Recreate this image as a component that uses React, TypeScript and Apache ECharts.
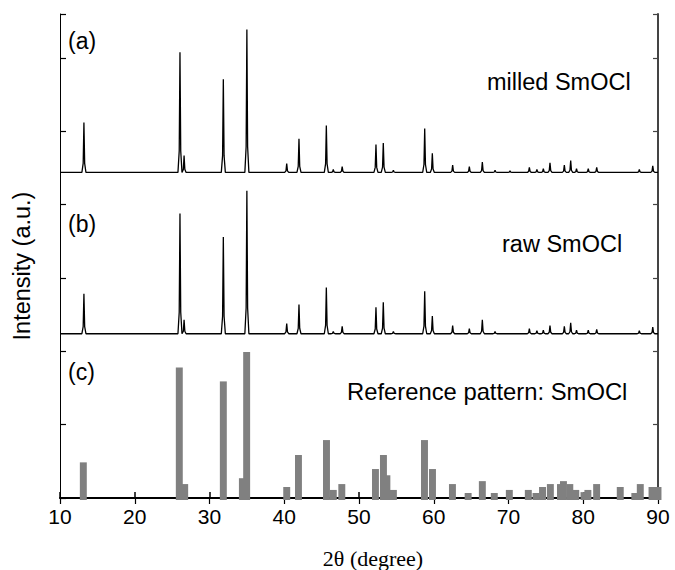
import React, { useEffect, useRef } from "react";
import * as echarts from "echarts";

// x-axis ticks
const xTicks = [10, 20, 30, 40, 50, 60, 70, 80, 90];

// (a) milled SmOCl : peak positions (2θ) and heights above its baseline
const milledBase = 4.44;
const milledPos = [13.2, 26.05, 26.6, 31.85, 35.0, 40.33, 41.97, 45.63, 46.56, 47.75, 52.27, 53.25, 54.6, 58.79, 59.81, 62.53, 64.76, 66.5, 68.2, 70.2, 72.79, 73.8, 74.66, 75.55, 77.47, 78.32, 79.1, 80.67, 81.8, 87.5, 89.3];
const milledHeight = [0.68, 1.64, 0.23, 1.27, 1.95, 0.12, 0.46, 0.64, 0.04, 0.08, 0.38, 0.4, 0.03, 0.6, 0.26, 0.1, 0.08, 0.14, 0.03, 0.02, 0.07, 0.04, 0.05, 0.13, 0.1, 0.16, 0.05, 0.05, 0.07, 0.04, 0.09];

// (b) raw SmOCl
const rawBase = 2.24;
const rawPos = [13.2, 26.05, 26.6, 31.85, 35.0, 40.33, 41.97, 45.63, 46.56, 47.75, 52.27, 53.25, 54.6, 58.79, 59.81, 62.53, 64.76, 66.5, 68.2, 72.79, 73.8, 74.66, 75.55, 77.47, 78.32, 79.1, 80.67, 81.8, 87.5, 89.3];
const rawHeight = [0.545, 1.64, 0.19, 1.32, 1.95, 0.14, 0.4, 0.63, 0.03, 0.1, 0.36, 0.43, 0.03, 0.58, 0.24, 0.11, 0.07, 0.19, 0.03, 0.07, 0.04, 0.05, 0.11, 0.1, 0.15, 0.05, 0.05, 0.06, 0.04, 0.09];

// (c) reference pattern bars
const refPos = [13.12, 25.96, 26.68, 31.85, 34.4, 34.97, 40.33, 41.9, 45.65, 46.56, 47.7, 52.2, 53.27, 53.73, 54.6, 58.76, 59.83, 62.5, 64.6, 66.5, 68.1, 70.11, 72.65, 73.68, 74.55, 75.6, 76.95, 77.35, 78.2, 79.0, 80.1, 80.62, 81.79, 84.95, 86.9, 87.63, 89.2, 90.0];
const refHeight = [0.486, 1.78, 0.19, 1.59, 0.27, 1.99, 0.15, 0.586, 0.79, 0.11, 0.19, 0.395, 0.586, 0.31, 0.11, 0.79, 0.395, 0.19, 0.068, 0.23, 0.068, 0.11, 0.11, 0.068, 0.15, 0.19, 0.19, 0.23, 0.19, 0.11, 0.08, 0.11, 0.19, 0.15, 0.068, 0.19, 0.15, 0.15];

const HALF = 0.27;
const SH = 0.1;

function buildTrace(pos: number[], h: number[], base: number): number[][] {
  const pts: number[][] = [[10, base]];
  pos.forEach((p, i) => {
    pts.push([p - HALF, base]);
    pts.push([p - SH, base + 0.18 * h[i]]);
    pts.push([p, base + h[i]]);
    pts.push([p + SH, base + 0.18 * h[i]]);
    pts.push([p + HALF, base]);
  });
  pts.push([90, base]);
  return pts;
}

export default function App() {
  const ref = useRef<HTMLDivElement>(null);
  useEffect(() => {
    if (!ref.current) return;
    const chart = echarts.init(ref.current, null, { renderer: "svg" });
    const sans = "'Liberation Sans', Arial, sans-serif";
    const serif = "'Liberation Serif', 'Times New Roman', serif";
    const BW = 0.93;
    const txt = (text: string, x: number, y: number, size: number, extra: any = {}) => ({
      type: "text",
      x,
      y,
      style: { text, fontSize: size, fontFamily: sans, fill: "#000", textVerticalAlign: "middle", ...extra },
    });
    chart.setOption({
      animation: false,
      backgroundColor: "#fff",
      grid: { left: 60, right: 17, top: 14, bottom: 72 },
      xAxis: [
        {
          type: "value", min: 10, max: 90, interval: 10, position: "bottom",
          axisLine: { lineStyle: { color: "#000", width: 2 } },
          axisTick: { inside: true, length: 6, lineStyle: { color: "#000", width: 1.5 } },
          axisLabel: { fontSize: 21, fontFamily: sans, color: "#000", margin: 8, formatter: (v: number) => (xTicks.includes(v) ? String(v) : "") },
          splitLine: { show: false },
        },
        {
          type: "value", min: 10, max: 90, interval: 10, position: "top",
          axisLine: { lineStyle: { color: "#000", width: 1 } },
          axisTick: { inside: true, length: 6, lineStyle: { color: "#000", width: 1.2 } },
          axisLabel: { show: false },
          splitLine: { show: false },
        },
      ],
      yAxis: [
        {
          type: "value", min: 0, max: 6.6, interval: 1, position: "left",
          axisLine: { show: true, lineStyle: { color: "#000", width: 1 } },
          axisTick: { show: true, inside: true, length: 6, lineStyle: { color: "#000", width: 1.2 } },
          axisLabel: { show: false },
          splitLine: { show: false },
        },
        {
          type: "value", min: 0, max: 6.6, interval: 1, position: "right",
          axisLine: { show: true, lineStyle: { color: "#444", width: 2 } },
          axisTick: { show: true, inside: true, length: 5, lineStyle: { color: "#444", width: 1.2 } },
          axisLabel: { show: false },
          splitLine: { show: false },
        },
      ],
      series: [
        {
          type: "custom",
          xAxisIndex: 0,
          yAxisIndex: 0,
          clip: false,
          data: refPos.map((p, i) => [p, refHeight[i]]),
          encode: { x: 0, y: 1 },
          renderItem: (params: any, api: any) => {
            const x = api.value(0);
            const h = api.value(1);
            const p0 = api.coord([x - BW / 2, 0]);
            const p1 = api.coord([x + BW / 2, h]);
            return {
              type: "rect",
              shape: { x: p0[0], y: p1[1], width: p1[0] - p0[0], height: p0[1] - p1[1] + 2 },
              style: { fill: "#808080" },
            };
          },
        },
        {
          type: "line",
          xAxisIndex: 0,
          yAxisIndex: 0,
          showSymbol: false,
          data: buildTrace(milledPos, milledHeight, milledBase),
          lineStyle: { color: "#000", width: 1.3 },
        },
        {
          type: "line",
          xAxisIndex: 0,
          yAxisIndex: 0,
          showSymbol: false,
          data: buildTrace(rawPos, rawHeight, rawBase),
          lineStyle: { color: "#000", width: 1.3 },
        },
      ],
      graphic: [
        txt("(a)", 68, 41, 23),
        txt("(b)", 68, 224, 23),
        txt("(c)", 68, 372, 23),
        txt("milled SmOCl", 487, 82, 23.5),
        txt("raw SmOCl", 502, 244, 23.5),
        txt("Reference pattern: SmOCl", 347, 391, 23.8),
        {
          type: "text",
          x: 22,
          y: 266,
          rotation: Math.PI / 2,
          style: { text: "Intensity (a.u.)", fontSize: 23.5, fontFamily: sans, fill: "#000", textAlign: "center", textVerticalAlign: "middle" },
        },
        {
          type: "text",
          x: 373,
          y: 558,
          style: { text: "2θ (degree)", fontSize: 22, fontFamily: serif, fill: "#000", textAlign: "center", textVerticalAlign: "middle" },
        },
      ],
    });
    return () => chart.dispose();
  }, []);
  return <div ref={ref} style={{ position: "fixed", left: 0, top: 0, width: 675, height: 570 }} />;
}
